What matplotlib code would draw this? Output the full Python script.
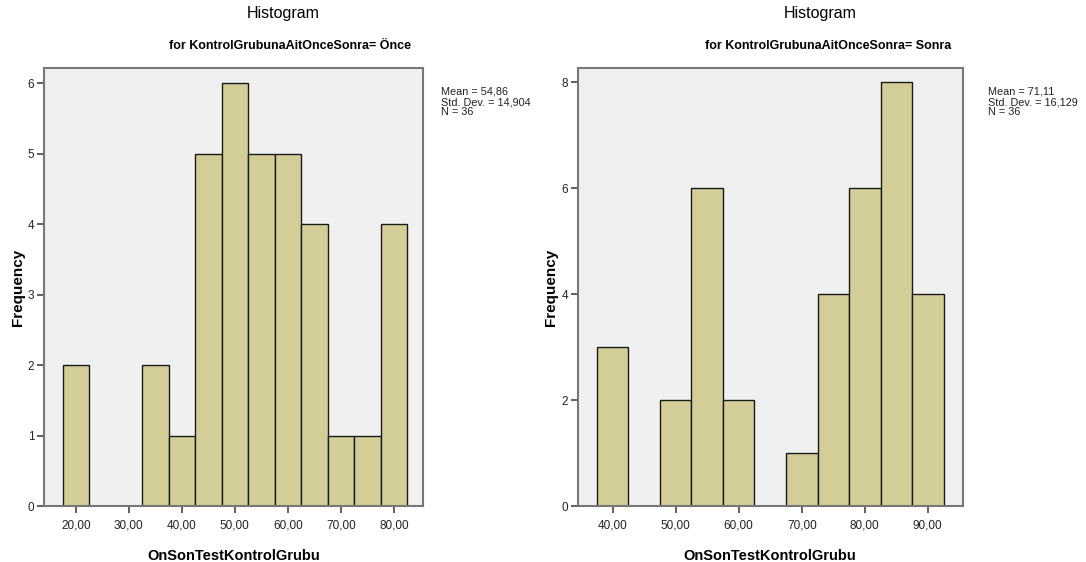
import matplotlib.pyplot as plt
from matplotlib.ticker import FixedLocator, FuncFormatter

plt.rcParams['font.family'] = ['Liberation Sans', 'DejaVu Sans']

# data
once_centers = [20, 25, 30, 35, 40, 45, 50, 55, 60, 65, 70, 75, 80]
once_counts = [2, 0, 0, 2, 1, 5, 6, 5, 5, 4, 1, 1, 4]
sonra_centers = [40, 45, 50, 55, 60, 65, 70, 75, 80, 85, 90]
sonra_counts = [3, 0, 2, 6, 2, 0, 1, 4, 6, 8, 4]

once_xticks = [20, 30, 40, 50, 60, 70, 80]
sonra_xticks = [40, 50, 60, 70, 80, 90]
once_yticks = [0, 1, 2, 3, 4, 5, 6]
sonra_yticks = [0, 2, 4, 6, 8]

once_stats = "Mean = 54,86\nStd. Dev. = 14,904\nN = 36"
sonra_stats = "Mean = 71,11\nStd. Dev. = 16,129\nN = 36"
subtitles = ["for KontrolGrubunaAitOnceSonra= Önce", "for KontrolGrubunaAitOnceSonra= Sonra"]

bar_color = '#d3ce98'
bg = '#f0f0f0'

fig = plt.figure(figsize=(10.86, 5.62), dpi=100)

panels = [
    ([0.0405, 0.0996, 0.349, 0.779], once_centers, once_counts, once_xticks, once_yticks, (14, 85.5), (0, 6.21), once_stats, subtitles[0], -0.05, 1.047),
    ([0.532, 0.0996, 0.3545, 0.779], sonra_centers, sonra_counts, sonra_xticks, sonra_yticks, (34.45, 95.55), (0, 8.26), sonra_stats, subtitles[1], -0.052, 1.065),
]

for rect, cx, cnt, xt, yt, xl, yl, stats, sub, ylab_x, stat_x in panels:
    ax = fig.add_axes(rect)
    ax.set_facecolor(bg)
    ax.bar(cx, cnt, width=5, color=bar_color, edgecolor='#1a1a1a', linewidth=1.0, zorder=2)
    ax.set_xlim(*xl)
    ax.set_ylim(*yl)
    ax.xaxis.set_major_locator(FixedLocator(xt))
    ax.yaxis.set_major_locator(FixedLocator(yt))
    ax.xaxis.set_major_formatter(FuncFormatter(lambda v, p: ("%.2f" % v).replace('.', ',')))
    ax.yaxis.set_major_formatter(FuncFormatter(lambda v, p: "%d" % v))
    ax.tick_params(axis='both', direction='out', length=5, width=1.2, color='#444444',
                   labelsize=8.5, labelcolor='#222222', pad=2)
    ax.tick_params(axis='x', pad=5)
    for s in ax.spines.values():
        s.set_color('#777777')
        s.set_linewidth(1.5)
    ax.set_xlabel("OnSonTestKontrolGrubu", fontsize=10.5, fontweight='bold', labelpad=12)
    ax.set_ylabel("Frequency", fontsize=11, fontweight='bold')
    ax.yaxis.set_label_coords(ylab_x, 0.5)
    # stats box text
    ax.text(stat_x, 0.958, stats, transform=ax.transAxes, fontsize=7.8, va='top', ha='left',
            linespacing=1.05, color='#222222')
    fig.text(rect[0] + rect[2] * 0.63, 0.99, "Histogram", fontsize=11.5, ha='center', va='top')
    fig.text(rect[0] + rect[2] * 0.65, 0.928, sub, fontsize=9, ha='center', va='top', fontweight='bold')

fig.savefig("out.png", dpi=100)
